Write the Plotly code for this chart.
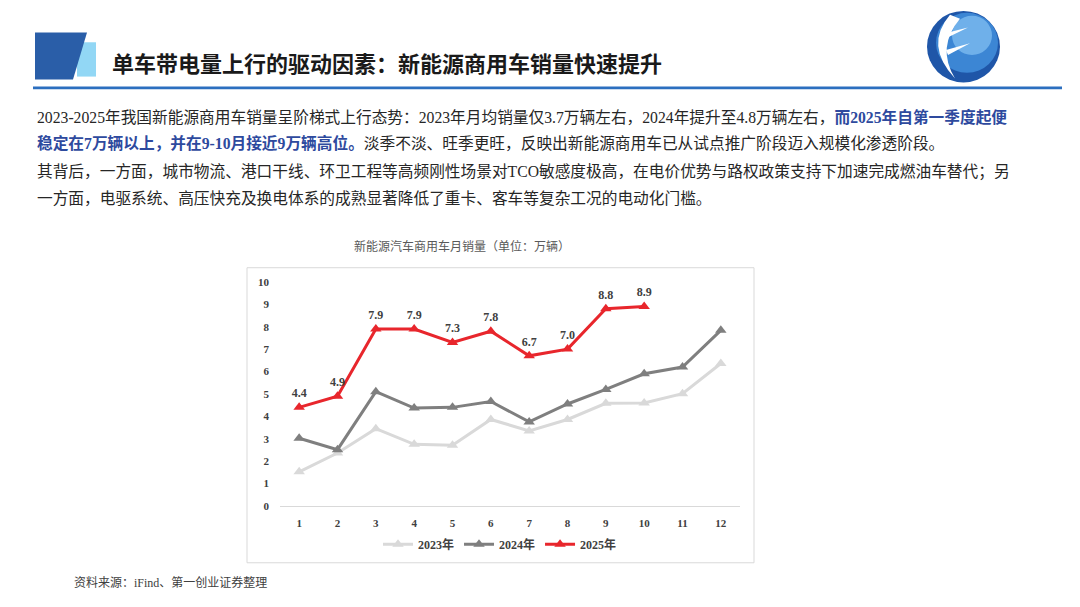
import plotly.graph_objects as go

# 月份与三年的新能源商用车月销量（万辆）
months = list(range(1, 13))
month_labels = [str(m) for m in months]
sales_2023 = [1.52, 2.36, 3.45, 2.75, 2.71, 3.86, 3.35, 3.86, 4.58, 4.60, 5.01, 6.36]
sales_2024 = [3.02, 2.51, 5.10, 4.37, 4.40, 4.66, 3.75, 4.55, 5.20, 5.90, 6.20, 7.84]
sales_2025 = [4.4, 4.9, 7.9, 7.9, 7.3, 7.8, 6.7, 7.0, 8.8, 8.9]
y_ticks = list(range(0, 11))

W, H = 1080, 607
SERIF = "Liberation Serif, Noto Sans CJK SC"
SANS = "Noto Sans CJK SC, Noto Sans, sans-serif"
BLUE_TXT = "#2E4A9E"


def px(x):
    return x / W


def py(y):
    return 1 - y / H


fig = go.Figure()

fig.add_trace(go.Scatter(
    x=months, y=sales_2023, name="2023年", mode="lines+markers",
    line=dict(color="#D9D9D9", width=3),
    marker=dict(symbol="triangle-up", size=10, color="#D9D9D9"),
))
fig.add_trace(go.Scatter(
    x=months, y=sales_2024, name="2024年", mode="lines+markers",
    line=dict(color="#7F7F7F", width=3),
    marker=dict(symbol="triangle-up", size=10, color="#7F7F7F"),
))
fig.add_trace(go.Scatter(
    x=months[:len(sales_2025)], y=sales_2025, name="2025年", mode="lines+markers+text",
    line=dict(color="#E8262C", width=3),
    marker=dict(symbol="triangle-up", size=10, color="#E8262C"),
    text=[f"{v:.1f}" for v in sales_2025], textposition="top center",
    textfont=dict(family=SERIF, size=12, color="#404040", weight="bold"),
))

fig.update_xaxes(
    domain=[px(280), px(740)], range=[0.5, 12.5],
    tickvals=months, ticktext=month_labels, ticks="",
    showgrid=False, zeroline=False, showline=True, linecolor="#D9D9D9", linewidth=1,
    ticklabelstandoff=7,
    tickfont=dict(family=SERIF, size=11, color="#404040", weight="bold"),
)
fig.update_yaxes(
    domain=[1 - 510 / H, 1 - 281.5 / H], range=[0, 10],
    tickvals=y_ticks, ticks="", showgrid=False, zeroline=False, showline=False,
    ticklabelstandoff=10,
    tickfont=dict(family=SERIF, size=11, color="#404040", weight="bold"),
)

shapes = [
    # 标题左侧色块
    dict(type="rect", xref="paper", yref="paper",
         x0=px(77), x1=px(96), y0=py(72), y1=py(37),
         fillcolor="#92D7F5", line_width=0, layer="below"),
    dict(type="path", xref="paper", yref="paper",
         path=f"M {px(35)} {py(27)} L {px(87)} {py(27)} L {px(73)} {py(75)} L {px(35)} {py(75)} Z",
         fillcolor="#2A5EA8", line_width=0),
    # 标题下方蓝线
    dict(type="rect", xref="paper", yref="paper",
         x0=px(33), x1=px(1062), y0=py(85), y1=py(82),
         fillcolor="#2C6FBF", line_width=0),
    # 右上角标志
    dict(type="circle", xref="paper", yref="paper",
         x0=px(927), x1=px(1000), y0=py(78), y1=py(5),
         fillcolor="#1F56A8", line_width=0),
    dict(type="circle", xref="paper", yref="paper",
         x0=px(936), x1=px(998), y0=py(68), y1=py(7),
         fillcolor="#3C86D4", line_width=0),
    dict(type="circle", xref="paper", yref="paper",
         x0=px(952), x1=px(992), y0=py(50), y1=py(10),
         fillcolor="#6FB0EA", line_width=0),
    dict(type="path", xref="paper", yref="paper",
         path=(f"M {px(950)} {py(9)} Q {px(924)} {py(40)} {px(955)} {py(74)} "
               f"Q {px(936)} {py(42)} {px(960)} {py(13)} Z"),
         fillcolor="white", line_width=0),
    dict(type="path", xref="paper", yref="paper",
         path=(f"M {px(944)} {py(28)} L {px(968)} {py(22)} L {px(946)} {py(33)} Z "
               f"M {px(946)} {py(45)} L {px(970)} {py(38)} L {px(948)} {py(50)} Z"),
         fillcolor="white", line_width=0),
    # 图表外框
    dict(type="rect", xref="paper", yref="paper",
         x0=px(247), x1=px(754), y0=py(568), y1=py(267),
         line=dict(color="#D9D9D9", width=1), fillcolor="rgba(0,0,0,0)", layer="below"),
]

para_lines = [
    ("2023-2025年我国新能源商用车销量呈阶梯式上行态势：2023年月均销量仅3.7万辆左右，2024年提升至4.8万辆左右，"
     f"<span style='color:{BLUE_TXT}'><b>而2025年自第一季度起便</b></span>", 113),
    (f"<span style='color:{BLUE_TXT}'><b>稳定在7万辆以上，并在9-10月接近9万辆高位。</b></span>"
     "淡季不淡、旺季更旺，反映出新能源商用车已从试点推广阶段迈入规模化渗透阶段。", 140),
    ("其背后，一方面，城市物流、港口干线、环卫工程等高频刚性场景对TCO敏感度极高，在电价优势与路权政策支持下加速完成燃油车替代；另", 169),
    ("一方面，电驱系统、高压快充及换电体系的成熟显著降低了重卡、客车等复杂工况的电动化门槛。", 196),
]

annotations = [
    dict(text="<b>单车带电量上行的驱动因素：新能源商用车销量快速提升</b>",
         x=px(110), y=py(57), xanchor="left", yanchor="middle",
         font=dict(family=SANS, size=22, color="#1A1A1A")),
    dict(text="新能源汽车商用车月销量（单位：万辆）",
         x=px(462), y=py(245), xanchor="center", yanchor="middle",
         font=dict(family=SERIF, size=12, color="#595959")),
    dict(text="资料来源：iFind、第一创业证券整理",
         x=px(72), y=py(588), xanchor="left", yanchor="middle",
         font=dict(family=SERIF, size=12, color="#404040")),
]
for txt, yy in para_lines:
    annotations.append(dict(
        text=txt, x=px(35), y=py(yy), xanchor="left", yanchor="middle",
        font=dict(family=SERIF, size=15.7, color="#262626"),
    ))
for a in annotations:
    a.update(xref="paper", yref="paper", showarrow=False)

fig.update_layout(
    width=W, height=H, margin=dict(l=0, r=0, t=0, b=0),
    paper_bgcolor="white", plot_bgcolor="white",
    shapes=shapes, annotations=annotations,
    showlegend=True,
    legend=dict(orientation="h", x=px(500), y=py(549), xanchor="center", yanchor="middle",
                font=dict(family=SERIF, size=12, color="#404040", weight="bold"),
                itemwidth=30, bgcolor="rgba(0,0,0,0)"),
)

# 去掉页面默认边距，让图正好铺满窗口
fig.write_html("out.html", config={"displayModeBar": False},
               post_script="document.body.style.margin='0';")
